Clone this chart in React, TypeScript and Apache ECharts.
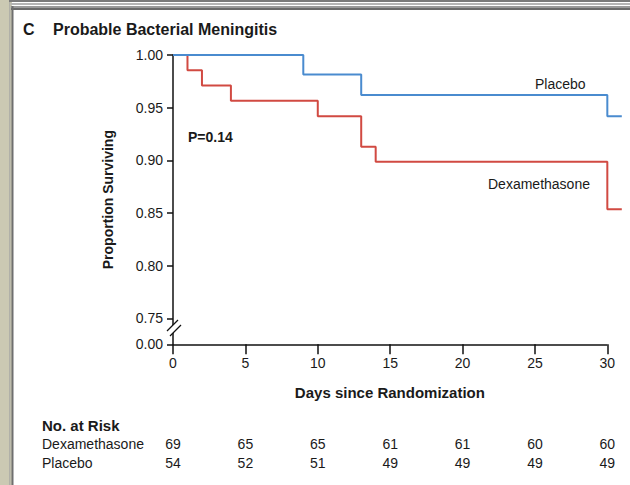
import React, { useEffect, useRef } from "react";
import * as echarts from "echarts";

const dayTicks = [0, 5, 10, 15, 20, 25, 30];
const yTickValues = [0.7255, 0.75, 0.8, 0.85, 0.9, 0.95, 1.0];
const yMin = 0.7255;

// Kaplan-Meier step points [day, proportion surviving]
const placeboCurve: [number, number][] = [
  [0, 1.0],
  [9, 0.9815],
  [13, 0.962],
  [30, 0.942],
  [31, 0.942],
];
const dexaCurve: [number, number][] = [
  [0, 1.0],
  [1, 0.9855],
  [2, 0.971],
  [4, 0.9565],
  [10, 0.942],
  [13, 0.913],
  [14, 0.8986],
  [30, 0.8537],
  [31, 0.8537],
];

const dexaAtRisk = [69, 65, 65, 61, 61, 60, 60];
const placeboAtRisk = [54, 52, 51, 49, 49, 49, 49];

const FONT = "'Liberation Sans', Arial, sans-serif";
const BLUE = "#4a8bcf";
const RED = "#d14a42";
const INK = "#1a1a1a";

export default function App() {
  const ref = useRef<HTMLDivElement>(null);
  useEffect(() => {
    if (!ref.current) return;
    const chart = echarts.init(ref.current, null, { renderer: "svg" });
    const riskAxis = (arr: number[], offset: number) => ({
      type: "value",
      gridIndex: 0,
      position: "bottom",
      offset,
      min: 0,
      max: 31,
      axisLine: { show: false },
      axisTick: { show: false },
      splitLine: { show: false },
      axisLabel: {
        margin: 0,
        verticalAlign: "middle",
        customValues: dayTicks,
        color: INK,
        fontFamily: FONT,
        fontSize: 14,
        formatter: (v: number) => {
          const i = dayTicks.indexOf(Math.round(v));
          return i >= 0 ? String(arr[i]) : "";
        },
      },
    });
    chart.setOption({
      animation: false,
      backgroundColor: "#ffffff",
      grid: { left: 173, right: 8.2, top: 55, bottom: 140.7 },
      xAxis: [
        {
          type: "value",
          min: 0,
          max: 31,
          name: "Days since Randomization",
          nameLocation: "middle",
          nameGap: 41,
          nameTextStyle: { fontFamily: FONT, fontSize: 15, fontWeight: "bold", color: INK, padding: [0, 15, 0, 0] },
          axisLine: { show: false },
          axisTick: { show: true, length: 10, customValues: dayTicks, lineStyle: { color: "#111", width: 1.5 } },
          splitLine: { show: false },
          axisLabel: { margin: 12, customValues: dayTicks, color: INK, fontFamily: FONT, fontSize: 14 },
        },
        riskAxis(dexaAtRisk, 100),
        riskAxis(placeboAtRisk, 118.4),
      ],
      yAxis: {
        type: "value",
        min: yMin,
        max: 1.0,
        name: "Proportion Surviving",
        nameLocation: "middle",
        nameGap: 58,
        nameTextStyle: { fontFamily: FONT, fontSize: 14, fontWeight: "bold", color: INK },
        axisLine: { show: true, lineStyle: { color: "#111", width: 1.5 } },
        axisTick: { show: true, length: 6, customValues: yTickValues, lineStyle: { color: "#111", width: 1.5 } },
        splitLine: { show: false },
        axisLabel: {
          margin: 10,
          customValues: yTickValues,
          color: INK,
          fontFamily: FONT,
          fontSize: 14,
          formatter: (v: number) => (v < 0.74 ? "0.00" : v.toFixed(2)),
        },
      },
      series: [
        {
          name: "Placebo",
          type: "line",
          step: "end",
          data: placeboCurve,
          showSymbol: false,
          symbol: "none",
          clip: false,
          lineStyle: { color: BLUE, width: 2 },
          z: 3,
          markLine: {
            silent: true,
            symbol: "none",
            label: { show: false },
            lineStyle: { color: "#111", width: 1.5, type: "solid" },
            data: [[{ coord: [0, yMin] }, { coord: [30, yMin] }]],
          },
        },
        {
          name: "Dexamethasone",
          type: "line",
          step: "end",
          data: dexaCurve,
          showSymbol: false,
          symbol: "none",
          clip: false,
          lineStyle: { color: RED, width: 2 },
          z: 2,
        },
      ],
      graphic: [
        // page decoration
        { type: "rect", shape: { x: 0, y: 0, width: 12, height: 485 }, style: { fill: "#cbc9b3" }, silent: true },
        { type: "rect", shape: { x: 9, y: 0, width: 621, height: 2 }, style: { fill: "#7a7a7a" }, silent: true },
        { type: "rect", shape: { x: 11, y: 3, width: 619, height: 2 }, style: { fill: "#b5b5b5" }, silent: true },
        { type: "rect", shape: { x: 11, y: 6, width: 619, height: 2 }, style: { fill: "#9a9a9a" }, silent: true },
        { type: "rect", shape: { x: 11, y: 8, width: 619, height: 2 }, style: { fill: "#6a6a6a" }, silent: true },
        { type: "rect", shape: { x: 9, y: 2, width: 1.5, height: 483 }, style: { fill: "#b0b0a8" }, silent: true },
        { type: "rect", shape: { x: 11.5, y: 6, width: 2, height: 479 }, style: { fill: "#6f6f6f" }, silent: true },
        // title
        { type: "text", x: 23, y: 29, style: { text: "C", font: `bold 16px ${FONT}`, fill: INK, verticalAlign: "middle" } },
        { type: "text", x: 53, y: 29, style: { text: "Probable Bacterial Meningitis", font: `bold 16px ${FONT}`, fill: INK, verticalAlign: "middle" } },
        // annotations
        { type: "text", x: 535, y: 84, style: { text: "Placebo", font: `14px ${FONT}`, fill: INK, verticalAlign: "middle" } },
        { type: "text", x: 488, y: 184, style: { text: "Dexamethasone", font: `14px ${FONT}`, fill: INK, verticalAlign: "middle" } },
        { type: "text", x: 188, y: 137, style: { text: "P=0.14", font: `bold 14px ${FONT}`, fill: INK, verticalAlign: "middle" } },
        // axis break
        { type: "polygon", shape: { points: [[167, 331], [178, 320], [181, 325], [170, 336]] }, style: { fill: "#fff" }, z: 10 },
        { type: "line", shape: { x1: 167, y1: 331, x2: 178, y2: 320 }, style: { stroke: "#111", lineWidth: 1.3 }, z: 11 },
        { type: "line", shape: { x1: 170, y1: 336, x2: 181, y2: 325 }, style: { stroke: "#111", lineWidth: 1.3 }, z: 11 },
        // at-risk table
        { type: "text", x: 42, y: 425, style: { text: "No. at Risk", font: `bold 15px ${FONT}`, fill: INK, verticalAlign: "middle" } },
        { type: "text", x: 42, y: 444.3, style: { text: "Dexamethasone", font: `14px ${FONT}`, fill: INK, verticalAlign: "middle" } },
        { type: "text", x: 42, y: 462.7, style: { text: "Placebo", font: `14px ${FONT}`, fill: INK, verticalAlign: "middle" } },
      ],
    });
    return () => chart.dispose();
  }, []);
  return (
    <div
      ref={ref}
      style={{ position: "absolute", left: 0, top: 0, width: 630, height: 485 }}
    />
  );
}
